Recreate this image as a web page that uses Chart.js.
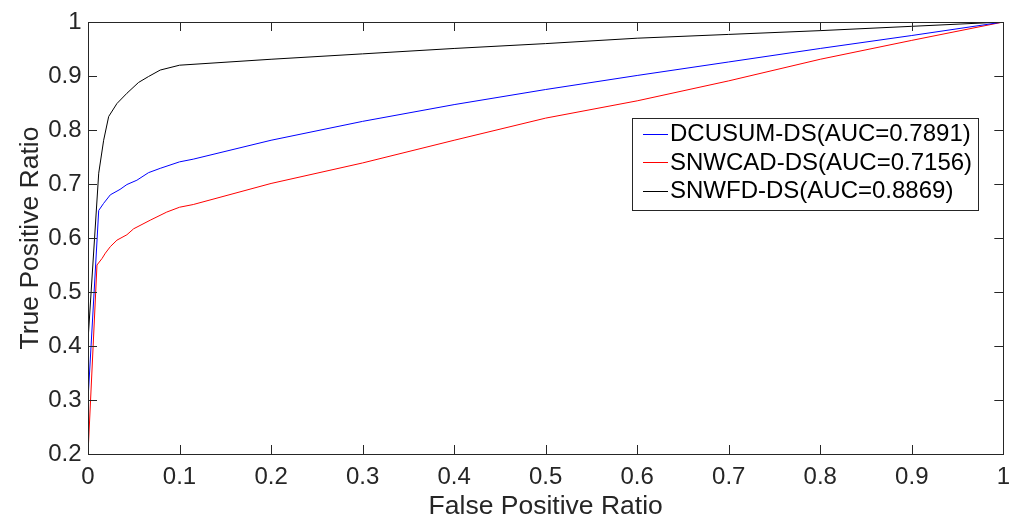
<!DOCTYPE html>
<html>
<head>
<meta charset="utf-8">
<script src="https://cdn.jsdelivr.net/npm/chart.js@4/dist/chart.umd.min.js"></script>
<style>
  html, body { margin: 0; padding: 0; background: #fff; }
  #wrap { width: 1019px; height: 521px; }
</style>
</head>
<body>
<div id="wrap"><canvas id="roc" width="1019" height="521"></canvas></div>
<script>
// ROC curves, false positive ratio vs true positive ratio
const fprDcusum = [0, 0.0117, 0.017, 0.0244, 0.035, 0.0425, 0.0534, 0.0661, 0.0789, 0.1, 0.115, 0.2, 0.3, 0.4, 0.5, 0.6, 0.7, 0.8, 0.9, 1];
const tprDcusum = [0.30, 0.651, 0.664, 0.68, 0.69, 0.699, 0.707, 0.721, 0.729, 0.741, 0.746, 0.781, 0.816, 0.847, 0.875, 0.901, 0.926, 0.951, 0.975, 1];

const fprSnwcad = [0, 0.0098, 0.0153, 0.019, 0.0244, 0.0316, 0.0425, 0.0498, 0.068, 0.086, 0.1, 0.115, 0.2, 0.3, 0.4, 0.5, 0.6, 0.7, 0.8, 0.9, 1];
const tprSnwcad = [0.2, 0.55, 0.562, 0.572, 0.584, 0.596, 0.606, 0.617, 0.633, 0.648, 0.657, 0.662, 0.701, 0.739, 0.781, 0.822, 0.854, 0.891, 0.931, 0.966, 1];

const fprSnwfd = [0, 0.0117, 0.0171, 0.0226, 0.0316, 0.0425, 0.0552, 0.0661, 0.0789, 0.1, 0.2, 0.3, 0.4, 0.5, 0.6, 0.7, 0.8, 0.9, 1];
const tprSnwfd = [0.41, 0.72, 0.781, 0.825, 0.849, 0.868, 0.888, 0.899, 0.911, 0.920, 0.931, 0.941, 0.951, 0.960, 0.970, 0.977, 0.984, 0.992, 1];

const seriesLabels = ['DCUSUM-DS(AUC=0.7891)', 'SNWCAD-DS(AUC=0.7156)', 'SNWFD-DS(AUC=0.8869)'];
const seriesColors = ['#0000ff', '#ff0000', '#000000'];

const xTickValues = [0, 0.1, 0.2, 0.3, 0.4, 0.5, 0.6, 0.7, 0.8, 0.9, 1];
const yTickValues = [0.2, 0.3, 0.4, 0.5, 0.6, 0.7, 0.8, 0.9, 1];

const FONT = "'Liberation Sans', Arial, Helvetica, sans-serif";
const AXIS_COLOR = '#262626';

function toPoints(xs, ys) {
  return xs.map((x, i) => ({ x: x, y: ys[i] }));
}

const fmt = v => String(Math.round(v * 10) / 10);

// box around the plot with inward ticks on all four sides
const boxAxes = {
  id: 'boxAxes',
  afterDraw(chart) {
    const { ctx, chartArea: a, scales } = chart;
    const len = 9;
    ctx.save();
    ctx.strokeStyle = AXIS_COLOR;
    ctx.lineWidth = 1;
    ctx.beginPath();
    scales.x.ticks.forEach(t => {
      const px = Math.round(scales.x.getPixelForValue(t.value)) + 0.5;
      ctx.moveTo(px, a.bottom); ctx.lineTo(px, a.bottom - len);
      ctx.moveTo(px, a.top); ctx.lineTo(px, a.top + len);
    });
    scales.y.ticks.forEach(t => {
      const py = Math.round(scales.y.getPixelForValue(t.value)) + 0.5;
      ctx.moveTo(a.left, py); ctx.lineTo(a.left + len, py);
      ctx.moveTo(a.right, py); ctx.lineTo(a.right - len, py);
    });
    ctx.stroke();
    ctx.strokeRect(Math.round(a.left) + 0.5, Math.round(a.top) + 0.5,
      Math.round(a.right - a.left), Math.round(a.bottom - a.top));
    ctx.restore();
  }
};

// legend box inside the plot, upper right
const boxLegend = {
  id: 'boxLegend',
  afterDraw(chart) {
    const ctx = chart.ctx;
    const x0 = 632.5, y0 = 118.5, w = 346, h = 92;
    const rowH = 28.5;
    ctx.save();
    ctx.fillStyle = '#fff';
    ctx.fillRect(x0, y0, w, h);
    ctx.strokeStyle = AXIS_COLOR;
    ctx.lineWidth = 1;
    ctx.strokeRect(x0, y0, w, h);
    ctx.font = '24px ' + FONT;
    ctx.textBaseline = 'middle';
    ctx.textAlign = 'left';
    chart.data.datasets.forEach((ds, i) => {
      const cy = y0 + 15 + i * rowH;
      ctx.strokeStyle = ds.borderColor;
      ctx.beginPath();
      ctx.moveTo(643, Math.round(cy) + 0.5);
      ctx.lineTo(668, Math.round(cy) + 0.5);
      ctx.stroke();
      ctx.fillStyle = '#000';
      ctx.fillText(ds.label, 670, cy + 1);
    });
    ctx.restore();
  }
};

new Chart(document.getElementById('roc'), {
  type: 'scatter',
  data: {
    datasets: [
      { label: seriesLabels[0], data: toPoints(fprDcusum, tprDcusum), borderColor: seriesColors[0] },
      { label: seriesLabels[1], data: toPoints(fprSnwcad, tprSnwcad), borderColor: seriesColors[1] },
      { label: seriesLabels[2], data: toPoints(fprSnwfd, tprSnwfd), borderColor: seriesColors[2] }
    ].map(d => Object.assign(d, {
      showLine: true, borderWidth: 1, pointRadius: 0, tension: 0, fill: false
    }))
  },
  options: {
    responsive: false,
    animation: false,
    layout: { padding: { left: 0, right: 13, top: 22, bottom: 0 } },
    plugins: {
      legend: { display: false },
      tooltip: { enabled: false }
    },
    scales: {
      x: {
        type: 'linear',
        min: 0, max: 1,
        afterBuildTicks: s => { s.ticks = xTickValues.map(v => ({ value: v })); },
        afterFit: s => { s.height = 67; },
        grid: { display: false, drawTicks: false },
        border: { display: false },
        ticks: {
          callback: fmt, padding: 9, color: AXIS_COLOR, maxRotation: 0,
          font: { family: FONT, size: 24 }
        },
        title: {
          display: true, text: 'False Positive Ratio', color: AXIS_COLOR,
          font: { family: FONT, size: 26.5, lineHeight: 1 },
          padding: { top: 0, bottom: 1.5 }
        }
      },
      y: {
        type: 'linear',
        min: 0.2, max: 1,
        afterBuildTicks: s => { s.ticks = yTickValues.map(v => ({ value: v })); },
        afterFit: s => { s.width = 88; },
        grid: { display: false, drawTicks: false },
        border: { display: false },
        ticks: {
          callback: fmt, padding: 6.5, color: AXIS_COLOR,
          font: { family: FONT, size: 24 }
        },
        title: {
          display: true, text: 'True Positive Ratio', color: AXIS_COLOR,
          font: { family: FONT, size: 26.5, lineHeight: 1 },
          padding: { top: 17, bottom: 0 }
        }
      }
    }
  },
  plugins: [boxAxes, boxLegend]
});
</script>
</body>
</html>
